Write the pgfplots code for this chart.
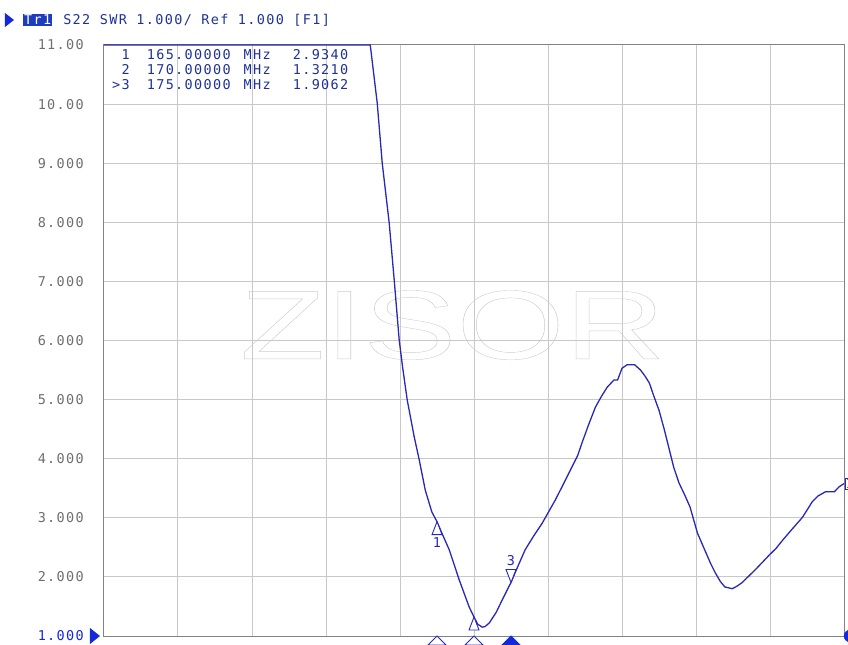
\documentclass[border=0pt]{standalone}
\usepackage{pgfplots}
\pgfplotsset{compat=1.18}
\usepackage{fontspec}
\setmainfont{DejaVu Sans}
\setmonofont{DejaVu Sans Mono}[LetterSpace=10]
\newfontfamily\wmfont{Liberation Sans}

\definecolor{trace}{RGB}{40,40,180}
\definecolor{refblue}{RGB}{20,40,220}
\definecolor{hdrblue}{RGB}{30,50,150}
\definecolor{trbox}{RGB}{30,60,190}
\definecolor{gridgray}{RGB}{200,200,200}
\definecolor{framegray}{RGB}{130,130,130}
\definecolor{labgray}{RGB}{110,110,110}
\definecolor{wmgray}{RGB}{205,205,205}

% marker shapes, apex on the data point
\pgfdeclareplotmark{mkup}{%
  \pgfpathmoveto{\pgfpointorigin}\pgfpathlineto{\pgfpoint{-5bp}{-13bp}}%
  \pgfpathlineto{\pgfpoint{5bp}{-13bp}}\pgfpathclose\pgfusepathqfillstroke}
\pgfdeclareplotmark{mkdown}{%
  \pgfpathmoveto{\pgfpointorigin}\pgfpathlineto{\pgfpoint{-5bp}{13bp}}%
  \pgfpathlineto{\pgfpoint{5bp}{13bp}}\pgfpathclose\pgfusepathqfillstroke}
\pgfdeclareplotmark{stim}{%
  \pgfpathmoveto{\pgfpointorigin}\pgfpathlineto{\pgfpoint{-9bp}{-9bp}}%
  \pgfpathlineto{\pgfpoint{9bp}{-9bp}}\pgfpathclose\pgfusepathqfillstroke}
\pgfdeclareplotmark{refl}{%
  \pgfpathmoveto{\pgfpoint{-14bp}{8bp}}\pgfpathlineto{\pgfpoint{-4bp}{0bp}}%
  \pgfpathlineto{\pgfpoint{-14bp}{-8bp}}\pgfpathclose\pgfusepathqfill}

\newcommand\vnafont{\ttfamily\fontsize{13.5bp}{15bp}\selectfont}

\begin{document}
\begin{tikzpicture}
\useasboundingbox (-104bp,-9bp) rectangle (744bp,636bp);
\begin{axis}[
    at={(0,0)}, anchor=south west,
    scale only axis, width=740bp, height=591bp,
    xmin=120, xmax=220, ymin=1, ymax=11,
    xtick={120,130,...,220}, xticklabels={},
    ytick={1,...,11},
    yticklabels={{\color{refblue}1.000},2.000,3.000,4.000,5.000,6.000,7.000,8.000,9.000,10.00,11.00},
    yticklabel style={font=\vnafont, text=labgray, anchor=east, inner sep=0pt, xshift=-20bp},
    major tick length=0pt,
    grid=major, major grid style={gridgray, line width=1bp},
    axis line style={framegray, line width=1bp},
    clip=false,
]
% watermark
\node[text=wmgray, font=\wmfont\fontsize{98bp}{98bp}\selectfont, xscale=1.42, inner sep=0pt]
  at (axis cs:167.1,6.26) {\special{pdf:literal direct 1 Tr}ZISOR\special{pdf:literal direct 0 Tr}};

\addplot[trace, line width=1.3bp] coordinates {
(120,11) (155.98,11) (156.92,10.02) (157.60,9.00) (158.54,7.99) (159.22,7.02)
(159.89,6.01) (160.35,5.55) (160.98,4.99) (161.92,4.37) (162.60,3.98) (163.41,3.47)
(164.30,3.10) (165,2.934) (165.8,2.70) (166.65,2.46) (168.0,1.95) (169.35,1.49)
(170,1.321) (170.5,1.20) (171.11,1.15) (171.5,1.16) (172.06,1.22) (173.0,1.40)
(173.81,1.61) (175,1.906) (176.0,2.20) (176.92,2.46) (178.0,2.68) (179.22,2.91)
(180.98,3.30) (182.0,3.55) (183.0,3.80) (184.0,4.05) (184.6,4.27) (185.5,4.58)
(186.4,4.87) (187.2,5.05) (188.0,5.21) (188.9,5.33) (189.4,5.33) (190.0,5.53)
(190.7,5.59) (191.7,5.59) (192.5,5.50) (193.1,5.40) (193.7,5.28) (194.3,5.06)
(195.0,4.82) (195.7,4.50) (196.4,4.15) (197.0,3.85) (197.7,3.59) (198.5,3.38)
(199.2,3.18) (200.2,2.74) (201.2,2.45) (202.0,2.22) (202.6,2.07) (203.3,1.92)
(203.9,1.83) (204.9,1.80) (205.5,1.84) (206.2,1.90) (207.1,2.01) (208.0,2.12)
(209.0,2.25) (209.9,2.37) (210.8,2.48) (211.7,2.62) (213.0,2.81) (214.4,3.01)
(215.0,3.13) (215.7,3.27) (216.5,3.37) (217.5,3.44) (218.7,3.44) (219.3,3.52)
(220.0,3.58)
};

% markers on the trace
\addplot[only marks, mark=mkup, trace, mark options={fill=white, line width=0.9bp}]
  coordinates {(165,2.934) (170,1.321)};
\addplot[only marks, mark=mkdown, trace, mark options={fill=white, line width=0.9bp}]
  coordinates {(175,1.906)};
\node[text=trace, font=\vnafont, yshift=-21bp] at (axis cs:165,2.934) {1};
\node[text=trace, font=\vnafont, yshift=22bp] at (axis cs:175,1.906) {3};

% stimulus markers under the axis
\addplot[only marks, mark=stim, trace, mark options={fill=white, line width=0.9bp}]
  coordinates {(165,1) (170,1)};
\addplot[only marks, mark=stim, refblue, mark options={fill=refblue, line width=0.9bp}]
  coordinates {(175,1)};
% reference level pointers
\addplot[only marks, mark=refl, refblue] coordinates {(120,1)};
\addplot[only marks, mark=*, refblue, mark size=6bp, mark options={xshift=6bp}] coordinates {(220,1)};
\node[text=trace, font=\vnafont, draw=trace, inner sep=0.5bp, anchor=west, xshift=1bp]
  at (axis cs:220,3.58) {1};

% marker readout
\node[anchor=base west, inner sep=0pt, text=hdrblue, font=\vnafont]
  at ([xshift=8bp, yshift=-15bp]axis description cs:0,1) {%
  \begin{tabular}[t]{@{}r@{\hspace{17bp}}l@{\hspace{13bp}}l@{\hspace{22bp}}l@{}}
  1 & 165.00000 & MHz & 2.9340\\
  2 & 170.00000 & MHz & 1.3210\\
  >3 & 175.00000 & MHz & 1.9062
  \end{tabular}};

% header line
\fill[refblue] ([xshift=-99bp, yshift=32bp]axis description cs:0,1) -- ++(9bp,-7bp) -- ++(-9bp,-7bp) -- cycle;
\node[anchor=base west, inner sep=0pt, text=hdrblue, font=\vnafont]
  at ([xshift=-81bp, yshift=20bp]axis description cs:0,1)
  {{\fboxsep=1bp\colorbox{trbox}{\color{white}Tr1}}\hspace{11bp}S22 SWR 1.000/ Ref 1.000 [F1]};
\end{axis}
\end{tikzpicture}
\end{document}
